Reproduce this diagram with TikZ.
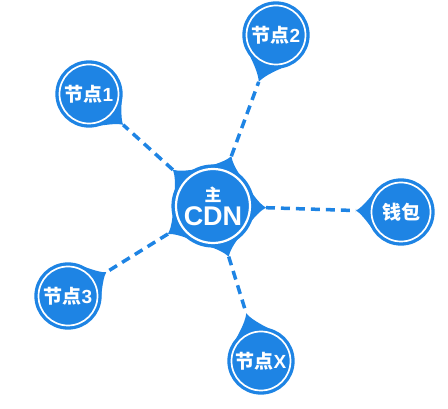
\documentclass[tikz,border=0pt]{standalone}
\usepackage{fontspec}
\setmainfont{Liberation Sans}
\newfontfamily\cjk{Noto Sans CJK SC}
\usetikzlibrary{calc}
\definecolor{cdnblue}{RGB}{30,132,228}

\tikzset{
    spot/.style={circle, fill=cdnblue, draw=cdnblue, double=white, double distance=1.7pt,
        line width=3.3pt, minimum size=59pt, inner sep=0pt, text=white,
        font=\bfseries\fontsize{19}{19}\selectfont},
    hub/.style={spot, minimum size=74pt, line width=3.5pt, double distance=2.2pt, align=center},
    link/.style={cdnblue, line width=3.5pt, dash pattern=on 9pt off 6pt},
}

% tail of a pin: node, target, radius, half width (deg), length, name of the tip
\newcommand\tail[6]{%
    \fill[cdnblue] let \p1=($(#2)-(#1)$), \n1={atan2(\y1,\x1)} in
        [shift={(#1)}, rotate=\n1]
        (-#4:#3) .. controls (-#4/3:{#3+1}) and (#4/3:{#3+1}) .. (#4:#3)
        .. controls ({#4*0.4}:{#3+0.25*#5}) and (3:{#3+0.65*#5}) .. (0:{#3+#5}) coordinate (#6)
        .. controls (-3:{#3+0.65*#5}) and ({-#4*0.4}:{#3+0.25*#5}) .. (-#4:#3) -- cycle;
}

\begin{document}
\begin{tikzpicture}[x=1pt, y=-1pt]
        \useasboundingbox (0,0) rectangle (448,409);

        \node[hub] (cdn) at (213,206) {{\cjk\fontsize{17}{17}\selectfont 主}\\[3pt]{\fontsize{27}{27}\selectfont CDN}};

        \node[spot] (n1) at (89,94) {{\cjk 节点}1};
        \node[spot] (n2) at (276,35) {{\cjk 节点}2};
        \node[spot] (wal) at (401,212) {\cjk 钱包};
        \node[spot] (n3) at (68,296) {{\cjk 节点}3};
        \node[spot] (nx) at (261,361) {{\cjk 节点}X};

        % pins
        \tail{n1}{cdn}{33}{36}{13}{n1t}
        \tail{n2}{cdn}{33}{36}{17}{n2t}
        \tail{wal}{cdn}{33}{36}{12}{walt}
        \tail{n3}{cdn}{33}{36}{12}{n3t}
        \tail{nx}{cdn}{33}{36}{17}{nxt}

        % spikes of the hub
        \tail{cdn}{n1}{40}{28}{14}{c1}
        \tail{cdn}{n2}{40}{28}{13}{c2}
        \tail{cdn}{wal}{40}{28}{13}{c3}
        \tail{cdn}{n3}{40}{28}{13}{c4}
        \tail{cdn}{nx}{40}{28}{13}{c5}

        \draw[link] (c1) -- (n1t);
        \draw[link] (c2) -- (n2t);
        \draw[link] (c3) -- (walt);
        \draw[link] (c4) -- (n3t);
        \draw[link] (c5) -- (nxt);
\end{tikzpicture}
\end{document}
